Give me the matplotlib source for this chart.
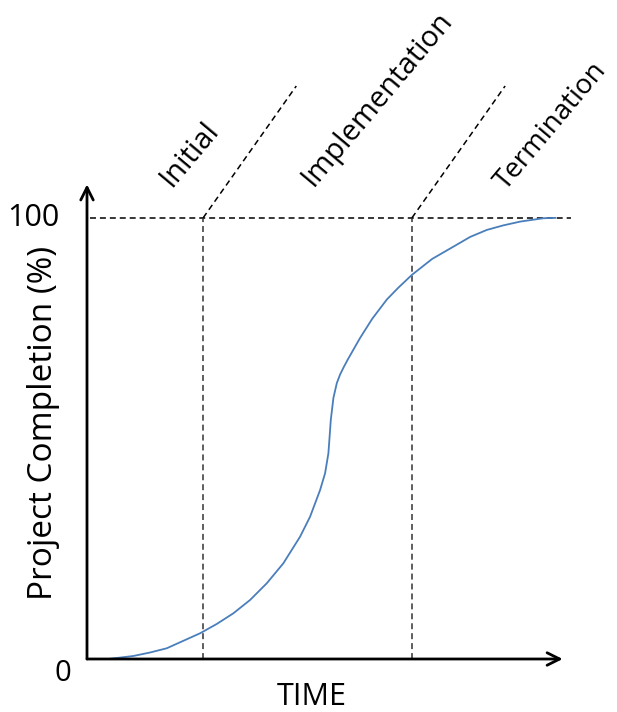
import matplotlib
matplotlib.use("Agg")
import matplotlib.pyplot as plt

# Data
time_pts = [4.55, 9.89, 13.46, 17.03, 24.15, 27.71, 31.26, 34.83, 38.40, 41.94, 45.51,
            47.65, 49.79, 50.85, 51.56, 51.92, 52.07, 52.63, 53.35, 54.06, 54.91, 55.77,
            58.33, 60.90, 64.04, 66.45, 69.38, 73.72, 78.27, 81.84, 85.41, 88.89,
            92.52, 97.50, 100.0]
completion_pts = [0.0, 0.68, 1.47, 2.43, 5.83, 7.94, 10.36, 13.38, 17.17, 21.70, 27.73,
                  32.27, 38.32, 42.11, 46.64, 51.93, 54.20, 59.18, 62.52, 64.51, 66.33, 68.03,
                  72.79, 77.10, 81.50, 84.13, 87.07, 90.70, 93.49, 95.69, 97.28, 98.30,
                  99.16, 99.93, 100.0]
phase_boundaries = [24.8, 69.4]
phase_labels = ["Initial", "Implementation", "Termination"]
y_ticks = [0, 100]
x_label = "TIME"
y_label = "Project Completion (%)"

FONT = "Open Sans"

fig = plt.figure(figsize=(6.17, 7.12), dpi=100)
ax = fig.add_axes([87/617, 53/712, 530/617, 659/712])
ax.set_xlim(0, 113.2)
ax.set_ylim(0, 149.4)
ax.axis("off")

# axes with arrows
arrow = dict(arrowstyle="->,head_length=0.9,head_width=0.45", lw=2, color="black",
             shrinkA=0, shrinkB=0)
ax.annotate("", xy=(101.6, 0), xytext=(0, 0), arrowprops=arrow)
ax.annotate("", xy=(0, 107.6), xytext=(0, 0), arrowprops=arrow)

dash = dict(color="black", lw=1.1, linestyle=(0, (3.9, 2.6)))
# 100% line
ax.plot([0.6, 103.4], [100, 100], **dash)
# phase boundaries and diagonal leaders
for b in phase_boundaries:
    ax.plot([b, b], [0, 100], color="#333333", lw=1.1, linestyle=(0, (3.9, 2.6)))
    ax.plot([b, b + 19.9], [100, 129.9], **dash)

# curve
ax.plot(time_pts, completion_pts, color="#4A7EBB", lw=1.3, solid_joinstyle="round")

# phase labels (anchored at the start of the baseline)
label_pos = [(18.0, 106.8), (48.2, 106.8), (89.4, 106.0)]
label_size = [21, 21, 20]
for lab, (tx, ty), fs in zip(phase_labels, label_pos, label_size):
    ax.text(tx, ty, lab, rotation=50, ha="left", va="baseline",
            fontsize=fs, family=FONT, rotation_mode="anchor")

# tick labels
ax.text(-3.3, -3.4, str(y_ticks[0]), ha="right", va="center", fontsize=21, family=FONT)
ax.text(-5.8, 100, str(y_ticks[1]), ha="right", va="center", fontsize=22, family=FONT)

# axis labels
ax.text(47.9, -10.4, x_label, ha="center", va="baseline", fontsize=22, family=FONT)
ax.text(-7.5, 53.6, y_label, ha="center", va="baseline", rotation=90,
        rotation_mode="anchor", fontsize=24, family=FONT)

fig.savefig("out.png", dpi=100)
